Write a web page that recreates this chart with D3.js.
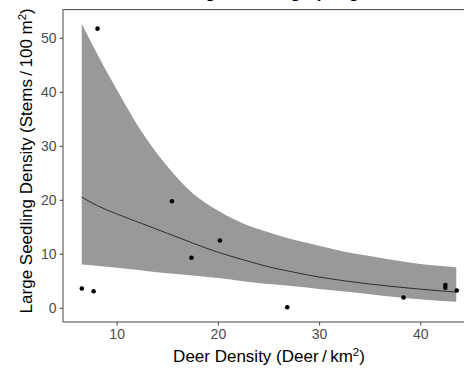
<!DOCTYPE html>
<html>
<head>
<script src="https://d3js.org/d3.v7.min.js"></script>
<style>
  body { margin: 0; background: #fff; }
  svg text { font-family: "Liberation Sans", Arial, sans-serif; }
</style>
</head>
<body>
<div id="chart"></div>
<script>
// observed plots
var deerX = [6.56, 7.72, 8.11, 15.46, 17.39, 20.2, 26.85, 38.34, 42.47, 42.47, 43.6];
var seedY = [3.57, 3.07, 51.7, 19.74, 9.26, 12.46, 0.1, 1.9, 4.2, 3.7, 3.2];

// fitted curve and confidence band
var fitX  = [6.55, 8, 10, 12.5, 15, 17.5, 20, 22.5, 25, 27.5, 30, 32.5, 35, 37.5, 40, 43.55];
var fitY  = [20.5, 19.0, 17.4, 15.6, 13.8, 12.0, 10.3, 8.9, 7.6, 6.6, 5.7, 5.0, 4.4, 3.9, 3.45, 2.9];
var fitHi = [52.6, 47.3, 40.5, 32.5, 26.2, 21.2, 18.0, 15.6, 14.0, 12.6, 11.5, 10.4, 9.6, 8.8, 8.1, 7.5];
var fitLo = [8.0, 7.8, 7.4, 6.9, 6.4, 6.0, 5.5, 4.9, 4.4, 4.0, 3.5, 3.0, 2.5, 2.0, 1.6, 1.1];

var xTicks = [10, 20, 30, 40];
var yTicks = [0, 10, 20, 30, 40, 50];

var w = 464, h = 370;
var padL = 63, padR = 475, padT = 9.6, padB = 322;

var svg = d3.select("#chart").append("svg").attr("width", w).attr("height", h);

// ggplot style 5% expansion
var xmin = d3.min(fitX), xmax = d3.max(fitX);
var xpad = (xmax - xmin) * 0.05;
var xScale = d3.scaleLinear().domain([xmin - xpad, xmax + xpad]).range([padL, padR]);
var ymax = d3.max(fitHi);
var ypad = ymax * 0.05;
var yScale = d3.scaleLinear().domain([-ypad, ymax + ypad]).range([padB, padT]);

var band = fitX.map(function(d, i) { return {x: d, y: fitY[i], hi: fitHi[i], lo: fitLo[i]}; });

svg.append("path")
  .datum(band)
  .attr("fill", "#999999")
  .attr("d", d3.area()
    .x(function(d) { return xScale(d.x); })
    .y0(function(d) { return yScale(d.lo); })
    .y1(function(d) { return yScale(d.hi); })
    .curve(d3.curveMonotoneX));

svg.append("path")
  .datum(band)
  .attr("fill", "none")
  .attr("stroke", "#222")
  .attr("stroke-width", 0.9)
  .attr("d", d3.line()
    .x(function(d) { return xScale(d.x); })
    .y(function(d) { return yScale(d.y); })
    .curve(d3.curveMonotoneX));

svg.selectAll("circle")
  .data(deerX)
  .enter()
  .append("circle")
  .attr("cx", function(d) { return xScale(d); })
  .attr("cy", function(d, i) { return yScale(seedY[i]); })
  .attr("r", 2.3)
  .attr("fill", "#000");

// panel border
svg.append("rect")
  .attr("x", padL).attr("y", padT)
  .attr("width", padR - padL).attr("height", padB - padT)
  .attr("fill", "none").attr("stroke", "#444").attr("stroke-width", 1);

var xAxis = svg.append("g")
  .attr("transform", "translate(0," + padB + ")")
  .call(d3.axisBottom(xScale).tickValues(xTicks).tickSize(3.5).tickPadding(4));
var yAxis = svg.append("g")
  .attr("transform", "translate(" + padL + ",0)")
  .call(d3.axisLeft(yScale).tickValues(yTicks).tickSize(3.5).tickPadding(3));

[xAxis, yAxis].forEach(function(a) {
  a.select(".domain").remove();
  a.selectAll("line").attr("stroke", "#444");
  a.selectAll("text").attr("fill", "#4D4D4D").style("font-size", "14px");
});

// title, mostly cut off at the top
svg.append("text")
  .attr("x", 269).attr("y", -2.2)
  .attr("text-anchor", "middle")
  .style("font-size", "17px").style("font-weight", "bold")
  .text("Large Seedling Spring");

var xt = svg.append("text")
  .attr("x", (padL + padR) / 2).attr("y", 362)
  .attr("text-anchor", "middle")
  .style("font-size", "17px");
xt.append("tspan").text("Deer Density (Deer\u2009/\u2009km");
xt.append("tspan").attr("dy", -6).style("font-size", "11.5px").text("2");
xt.append("tspan").attr("dy", 6).text(")");

var yt = svg.append("text")
  .attr("transform", "translate(32," + ((padT + padB) / 2 - 5) + ") rotate(-90)")
  .attr("text-anchor", "middle")
  .style("font-size", "17px");
yt.append("tspan").text("Large Seedling Density (Stems\u2009/\u2009100 m");
yt.append("tspan").attr("dy", -6).style("font-size", "11.5px").text("2");
yt.append("tspan").attr("dy", 6).text(")");
</script>
</body>
</html>
